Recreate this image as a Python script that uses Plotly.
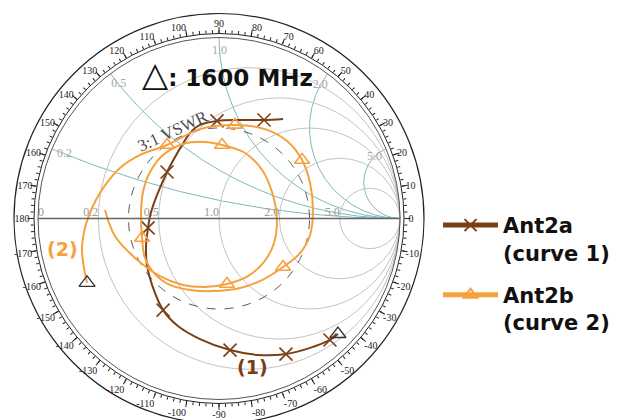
import numpy as np
import plotly.graph_objects as go

# ---- data: reflection coefficient samples (real, imaginary) ----
ant2a_re = [0.354, 0.249, 0.116, -0.011, -0.105, -0.160, -0.204, -0.243, -0.287, -0.326,
            -0.359, -0.381, -0.392, -0.403, -0.398, -0.370, -0.309, -0.227, -0.105, 0.061,
            0.215, 0.370, 0.503, 0.613, 0.657]
ant2a_im = [0.550, 0.544, 0.544, 0.539, 0.517, 0.472, 0.406, 0.340, 0.257, 0.169,
            0.086, 0.014, -0.052, -0.146, -0.257, -0.367, -0.506, -0.594, -0.666, -0.727,
            -0.754, -0.749, -0.715, -0.671, -0.638]
ant2a_marks = [1, 3, 8, 12, 16, 19, 21, 23]

ant2b_re = [-0.729, -0.746, -0.757, -0.746, -0.718, -0.680, -0.624, -0.547, -0.436, -0.287,
            -0.105, 0.088, 0.254, 0.376, 0.459, 0.503, 0.519, 0.503, 0.448, 0.354,
            0.238, 0.116, -0.033, -0.160, -0.271, -0.354, -0.409, -0.425, -0.431, -0.420,
            -0.381, -0.309, -0.199, -0.077, 0.017, 0.144, 0.238, 0.293, 0.320, 0.304,
            0.249, 0.160, 0.044, -0.077, -0.199, -0.326, -0.464, -0.575, -0.630]
ant2b_im = [-0.356, -0.273, -0.174, -0.075, 0.019, 0.102, 0.191, 0.279, 0.351, 0.406,
            0.494, 0.517, 0.494, 0.428, 0.323, 0.196, 0.047, -0.091, -0.191, -0.268,
            -0.340, -0.384, -0.401, -0.395, -0.367, -0.307, -0.218, -0.108, 0.019, 0.146,
            0.257, 0.351, 0.412, 0.423, 0.406, 0.362, 0.268, 0.146, -0.008, -0.135,
            -0.240, -0.318, -0.362, -0.378, -0.367, -0.318, -0.218, -0.097, 0.047]
ant2b_marks = [9, 11, 14, 19, 27, 34, 42]

r_ticks = [0.2, 0.5, 1.0, 2.0, 5.0]
r_label_vals = [0.0, 0.2, 0.5, 1.0, 2.0, 5.0]
r_label_text = ["0", "0.2", "0.5", "1.0", "2.0", "5.0"]
x_ticks = [0.2, 0.5, 1.0, 2.0, 5.0]
x_tick_text = ["0.2", "0.5", "1.0", "2.0", "5.0"]
vswr = 3.0
angle_vals = list(range(0, 360, 10))
angle_text = [str(a if a <= 180 else a - 360) for a in angle_vals]

BROWN = "#7b3f14"
ORANGE = "#f5a23c"
TEAL = "#80b9b9"
GRAY = "#c2c2c2"

def to_z(re, im):
    g = np.asarray(re) + 1j * np.asarray(im)
    z = (1 + g) / (1 - g)
    return z.real, z.imag

# ---- geometry (pixels) ----
W, H = 622, 420
CX, CY = 219, 201.5          # chart centre, measured from left / bottom
R_CHART, R_RING_IN, R_RING_OUT = 181, 185, 205

def dom(r):
    return dict(x=[(CX - r) / W, (CX + r) / W], y=[(CY - r) / H, (CY + r) / H])

fig = go.Figure()

# 3:1 VSWR circle
g_mag = (vswr - 1) / (vswr + 1)
th = np.linspace(0, 2 * np.pi, 241)
vr, vi = to_z(g_mag * np.cos(th), g_mag * np.sin(th))
fig.add_trace(go.Scattersmith(real=vr, imag=vi, mode="lines",
                              line=dict(color="#555555", width=1, dash="dash"),
                              showlegend=False, hoverinfo="skip"))

# resistance labels along the real axis
fig.add_trace(go.Scattersmith(real=r_label_vals, imag=[0] * len(r_label_vals), mode="text",
                              text=r_label_text,
                              textposition=["top right"] + ["top left"] * (len(r_label_vals) - 1),
                              textfont=dict(family="Liberation Serif", size=12, color="#9a9a9a"),
                              showlegend=False, hoverinfo="skip"))

# reactance labels just inside the rim
k = 0.925
lab_r = []
for xv in x_ticks:
    a, b = 1 + k * k, 1 - k * k
    lab_r.append((a - np.sqrt(a * a - b * b * (1 + xv * xv))) / b)
fig.add_trace(go.Scattersmith(real=lab_r, imag=x_ticks, mode="text", text=x_tick_text,
                              textfont=dict(family="Liberation Serif", size=12, color="#a8a8a8"),
                              showlegend=False, hoverinfo="skip"))

# curves
for re, im, marks, color, sym, name, grp in [
    (ant2a_re, ant2a_im, ant2a_marks, BROWN, "x-thin", "<b>Ant2a<br>(curve 1)</b>", "a"),
    (ant2b_re, ant2b_im, ant2b_marks, ORANGE, "triangle-up-open", "<b>Ant2b<br>(curve 2)</b>", "b"),
]:
    zr, zi = to_z(re, im)
    fig.add_trace(go.Scattersmith(real=zr, imag=zi, mode="lines",
                                  line=dict(color=color, width=2, shape="spline"),
                                  showlegend=False, legendgroup=grp))
    fig.add_trace(go.Scattersmith(real=zr[marks], imag=zi[marks], mode="markers",
                                  marker=dict(symbol=sym, size=13, color=color,
                                              line=dict(color=color, width=1.6)),
                                  showlegend=False, legendgroup=grp))
    fig.add_trace(go.Scattersmith(real=[None], imag=[None], mode="lines+markers", name=name,
                                  line=dict(color=color, width=1),
                                  marker=dict(symbol=sym, size=13, color=color,
                                              line=dict(color=color, width=1.3)),
                                  legendgroup=grp))

# 1600 MHz markers: last sample of curve 1, first sample of curve 2
za = to_z(ant2a_re[-1:], ant2a_im[-1:])
zb = to_z(ant2b_re[:1], ant2b_im[:1])
fig.add_trace(go.Scattersmith(real=[za[0][0], zb[0][0]], imag=[za[1][0], zb[1][0]],
                              mode="markers",
                              marker=dict(symbol="triangle-up-open", size=14, color="#333333",
                                          line=dict(color="#333333", width=1.3)),
                              showlegend=False))

# angle ring: labels, major ticks, minor ticks
for sp in ["polar", "polar2", "polar3"]:
    fig.add_trace(go.Scatterpolar(r=[None], theta=[None], subplot=sp, showlegend=False))

ring_common = dict(rotation=0, direction="counterclockwise", tickmode="array",
                   showgrid=False, tickcolor="#222222", tickwidth=1)

fig.update_layout(
    width=W, height=H,
    margin=dict(l=0, r=0, t=0, b=0),
    paper_bgcolor="white",
    smith=dict(
        domain=dom(R_CHART),
        bgcolor="rgba(0,0,0,0)",
        realaxis=dict(tickvals=r_ticks, gridcolor=GRAY, gridwidth=1,
                      linecolor="#666666", linewidth=1.5, showline=True,
                      ticks="", showticklabels=False),
        imaginaryaxis=dict(tickvals=x_ticks, gridcolor=TEAL, gridwidth=1,
                           linecolor="#555555", linewidth=1, showline=True,
                           ticks="", showticklabels=False),
    ),
    polar=dict(
        domain=dom(R_RING_IN + 4),
        bgcolor="rgba(0,0,0,0)",
        radialaxis=dict(visible=False),
        angularaxis=dict(**ring_common, tickvals=angle_vals, ticktext=angle_text,
                         ticks="", showline=False,
                         tickfont=dict(family="Liberation Serif", size=10, color="#222222")),
    ),
    polar2=dict(
        domain=dom(R_RING_IN),
        bgcolor="rgba(0,0,0,0)",
        radialaxis=dict(visible=False),
        angularaxis=dict(**ring_common, tickvals=angle_vals, ticks="outside", ticklen=6,
                         showticklabels=False, showline=True, linecolor="#222222",
                         linewidth=1),
    ),
    polar3=dict(
        domain=dom(R_RING_IN),
        bgcolor="rgba(0,0,0,0)",
        radialaxis=dict(visible=False),
        angularaxis=dict(**ring_common, tickvals=list(range(0, 360, 2)), ticks="outside",
                         ticklen=3, showticklabels=False, showline=False),
    ),
    legend=dict(x=438 / W, y=0.512, xanchor="left", yanchor="top",
                font=dict(family="DejaVu Sans", size=21, color="#111111"),
                traceorder="grouped", tracegroupgap=12, valign="top",
                itemwidth=55, itemsizing="constant", bgcolor="rgba(0,0,0,0)"),
    showlegend=True,
)

# outer border of the angle ring
fig.add_shape(type="circle", xref="paper", yref="paper",
              x0=(CX - R_RING_OUT) / W, x1=(CX + R_RING_OUT) / W,
              y0=(CY - R_RING_OUT) / H, y1=(CY + R_RING_OUT) / H,
              line=dict(color="#222222", width=1.2))

def note(x, y, text, size, color, family="DejaVu Sans", angle=0):
    fig.add_annotation(xref="paper", yref="paper", x=x / W, y=(H - y) / H,
                       xanchor="center", yanchor="middle", text=text, textangle=angle,
                       showarrow=False, font=dict(family=family, size=size, color=color))

note(227, 74, "<span style='font-size:34px'>\u25b3</span><b>: 1600 MHz</b>", 23, "#111111")
note(172, 131, "3:1 VSWR", 17, "#4a4a4a", family="Liberation Serif", angle=-25)
note(252, 367, "<b>(1)</b>", 19, BROWN)
note(62, 249, "<b>(2)</b>", 19, ORANGE)

fig.write_html("out.html")
